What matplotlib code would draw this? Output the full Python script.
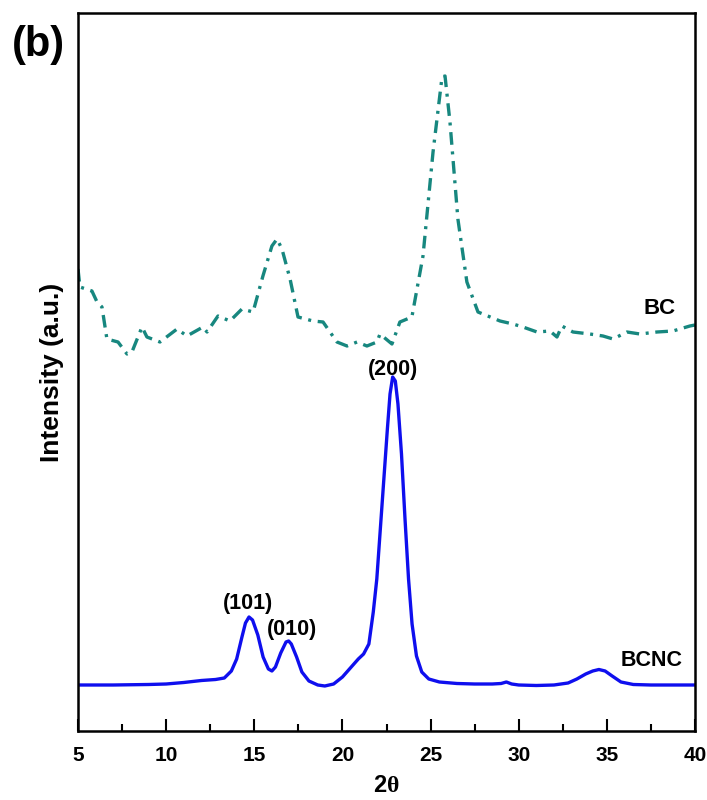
import matplotlib
matplotlib.use('Agg')
import matplotlib.pyplot as plt
from matplotlib.ticker import MultipleLocator

plt.rcParams['font.family'] = ['Liberation Sans', 'DejaVu Sans']
plt.rcParams['font.weight'] = 'bold'
plt.rcParams['mathtext.fontset'] = 'custom'
plt.rcParams['mathtext.rm'] = 'Liberation Serif'

# BCNC (solid blue)
bcnc_x = [5, 7, 9, 10, 11, 12, 12.8, 13.3, 13.7, 14.0, 14.3, 14.5, 14.7, 14.9, 15.2, 15.5,
          15.8, 16.0, 16.2, 16.5, 16.8, 16.95, 17.1, 17.4, 17.7, 18.1, 18.6, 19.0, 19.5,
          20.0, 20.5, 20.9, 21.2, 21.5, 21.75, 21.95, 22.15, 22.35, 22.55, 22.7, 22.85,
          23.0, 23.15, 23.35, 23.55, 23.75, 23.95, 24.2, 24.5, 24.9, 25.5, 26.5, 27.5,
          28.5, 29.0, 29.3, 29.6, 30.0, 31.0, 32.0, 32.8, 33.3, 33.8, 34.2, 34.55, 34.9,
          35.3, 35.8, 36.5, 37.5, 40]
bcnc_y = [46, 46, 46.5, 47, 48.5, 50.5, 51.5, 53, 60, 72, 94, 108, 114, 111, 96, 74,
          62, 60, 64, 78, 89, 90, 87, 74, 59, 50, 46, 45, 47,
          54, 64, 72, 77, 87, 119, 152, 202, 252, 302, 337, 354,
          350, 327, 277, 212, 152, 107, 75, 59, 52, 49, 47.5, 47,
          47, 47.5, 49, 47, 46, 45.5, 46, 48, 52, 57, 60, 61.5, 60,
          55, 49, 46.5, 46, 46]

# BC (dash-dot teal)
bc_x = [5.0, 5.11, 5.79, 6.08, 6.36, 6.64, 7.27, 7.78, 8.06, 8.63, 8.91, 9.65, 10.62,
        11.18, 12.09, 12.32, 12.94, 13.62, 14.30, 14.93, 15.49, 16.00, 16.29, 16.57,
        17.03, 17.48, 18.33, 18.90, 19.69, 20.26, 20.83, 21.39, 21.96, 22.13, 22.81,
        23.26, 23.94, 24.57, 25.14, 25.65, 25.82, 26.10, 26.55, 27.06, 27.69, 28.94,
        29.67, 30.24, 31.04, 31.77, 32.17, 32.45, 33.08, 34.04, 34.78, 35.35, 36.14,
        36.88, 37.84, 38.75, 39.71, 40.0]
bc_y = [462, 444, 440, 429, 424, 392, 389, 377, 379, 404, 394, 389, 402,
        395, 404, 399, 415, 410, 422, 419, 455, 485, 492, 482,
        452, 414, 410, 409, 389, 385, 389, 385, 389, 397, 387,
        409, 414, 475, 579, 654, 655, 609, 512, 449, 419, 410,
        407, 404, 399, 400, 394, 405, 399, 397, 395, 392, 399,
        397, 399, 400, 405, 406]

xticks = [5, 10, 15, 20, 25, 30, 35, 40]
peak_labels = ['(101)', '(010)', '(200)']
peak_pos = [(14.64, 128), (17.14, 102), (22.87, 361)]

fig = plt.figure(figsize=(7.07, 8.0), dpi=100)
ax = fig.add_axes([78/707, 1-731/800, (695-78)/707, (731-13)/800])

ax.plot(bcnc_x, bcnc_y, color='#0f0fee', lw=2.4)
ax.plot(bc_x, bc_y, color='#17877f', lw=2.4, linestyle=(0, (3.8, 2, 0.9, 2)))

for lab, (px, py) in zip(peak_labels, peak_pos):
    ax.text(px, py, lab, ha='center', va='center', fontsize=15.5, fontweight='bold')
ax.text(38.0, 422, 'BC', ha='center', va='center', fontsize=16, fontweight='bold')
ax.text(37.55, 70, 'BCNC', ha='center', va='center', fontsize=15.5, fontweight='bold')

ax.set_xlim(5, 40)
ax.set_ylim(0, 718)
ax.set_xticks(xticks)
ax.xaxis.set_minor_locator(MultipleLocator(2.5))
ax.set_yticks([])
ax.tick_params(axis='x', which='major', direction='in', length=8.5, width=1.5,
               labelsize=15, pad=11)
ax.tick_params(axis='x', which='minor', direction='in', length=5, width=1.5)
for lab in ax.get_xticklabels():
    lab.set_fontweight('bold')
for sp in ax.spines.values():
    sp.set_linewidth(1.8)

ax.set_xlabel(r'2$\mathrm{\theta}$', fontsize=17, fontweight='bold', labelpad=6)
ax.set_ylabel('Intensity (a.u.)', fontsize=19, fontweight='bold', labelpad=10)

fig.text(38/707, 1-45/800, '(b)', ha='center', va='center', fontsize=30, fontweight='bold')

fig.savefig('out.png', dpi=100)
